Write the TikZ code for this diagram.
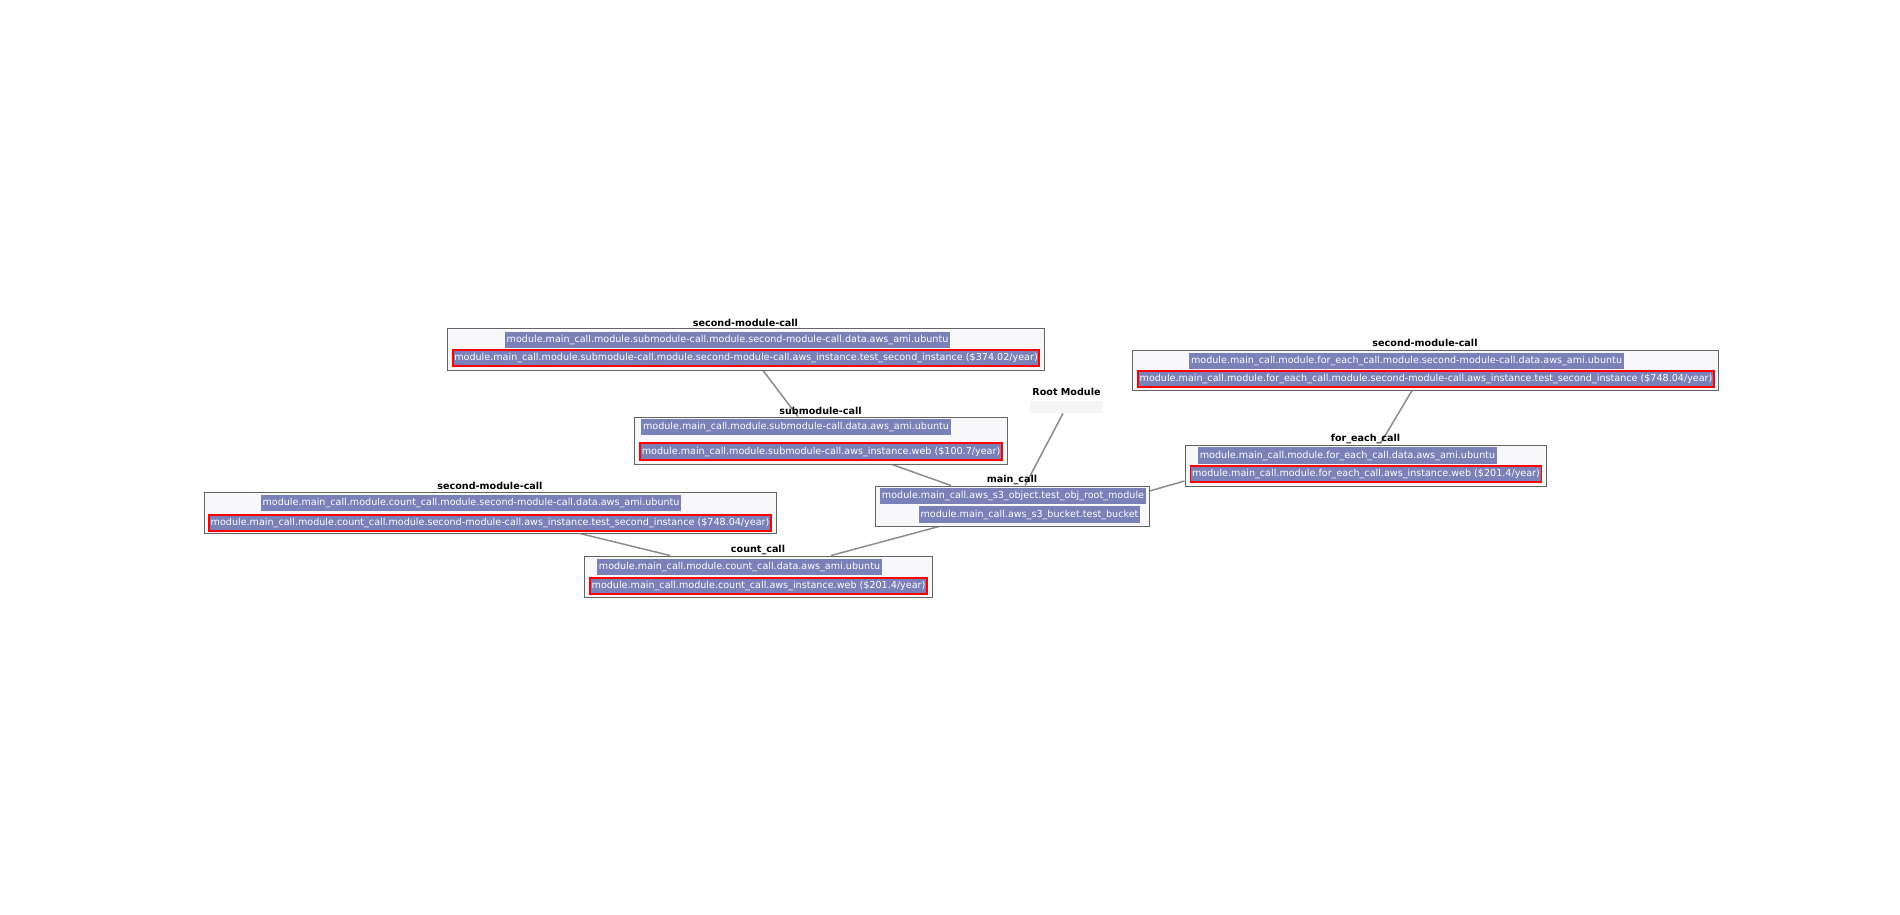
\documentclass[tikz,border=0pt]{standalone}
\usepackage{fontspec}
\setmainfont{DejaVu Sans}
\usetikzlibrary{calc,backgrounds}
\definecolor{rowblue}{RGB}{122,129,184}
\definecolor{clfill}{RGB}{248,248,250}
\definecolor{clline}{RGB}{100,100,100}
\definecolor{edgegray}{RGB}{140,140,140}
\definecolor{rootfill}{RGB}{245,245,245}
\tikzset{
  cluster/.style={draw=clline, line width=0.5pt, fill=clfill, inner sep=0pt},
  ctitle/.style={font=\fontsize{4.8pt}{5.5pt}\selectfont\bfseries, inner sep=0pt},
  datarow/.style={fill=rowblue, text=white, font=\fontsize{4.8pt}{5.5pt}\selectfont, inner xsep=0.8pt, inner ysep=1.7pt},
  resrow/.style={fill=rowblue, draw=red, line width=0.9pt, text=white, font=\fontsize{4.8pt}{5.5pt}\selectfont, inner xsep=0.8pt, inner ysep=1.7pt},
  conn/.style={draw=edgegray, line width=0.75pt},
}
\begin{document}
\begin{tikzpicture}[x=0.5pt,y=-0.5pt]
\useasboundingbox (0,0) rectangle (1900,915);
% top second-module-call
\node[cluster, minimum width=298.5pt, minimum height=21pt] (c1) at (745.5,349) {};
\node[ctitle] (c1t) at (745.5,323) {second-module-call};
\node[datarow] (c1a) at (727.5,340) {module.main\_call.module.submodule-call.module.second-module-call.data.aws\_ami.ubuntu};
\node[resrow] (c1b) at (746,358) {module.main\_call.module.submodule-call.module.second-module-call.aws\_instance.test\_second\_instance (\$374.02/year)};
% submodule-call
\node[cluster, minimum width=186.5pt, minimum height=23.5pt] (c2) at (820.5,440.5) {};
\node[ctitle] (c2t) at (820.5,411) {submodule-call};
\node[datarow] (c2a) at (796,427) {module.main\_call.module.submodule-call.data.aws\_ami.ubuntu};
\node[resrow] (c2b) at (821,451.5) {module.main\_call.module.submodule-call.aws\_instance.web (\$100.7/year)};
% Root Module
\node[fill=rootfill, minimum width=36.5pt, minimum height=6pt, inner sep=0pt] (root) at (1066.5,407) {};
\node[ctitle] (roott) at (1066.5,392) {Root Module};
% main_call
\node[cluster, minimum width=137pt, minimum height=20pt] (c3) at (1012,506) {};
\node[ctitle] (c3t) at (1012,480) {main\_call};
\node[datarow] (c3a) at (1013,496) {module.main\_call.aws\_s3\_object.test\_obj\_root\_module};
\node[datarow] (c3b) at (1029.5,514.5) {module.main\_call.aws\_s3\_bucket.test\_bucket};
% left second-module-call
\node[cluster, minimum width=286pt, minimum height=20.5pt] (c4) at (490,512.5) {};
\node[ctitle] (c4t) at (490,486) {second-module-call};
\node[datarow] (c4a) at (471,503) {module.main\_call.module.count\_call.module.second-module-call.data.aws\_ami.ubuntu};
\node[resrow] (c4b) at (490,523) {module.main\_call.module.count\_call.module.second-module-call.aws\_instance.test\_second\_instance (\$748.04/year)};
% count_call
\node[cluster, minimum width=174pt, minimum height=20.5pt] (c5) at (758,576.5) {};
\node[ctitle] (c5t) at (758,550) {count\_call};
\node[datarow] (c5a) at (739.5,567) {module.main\_call.module.count\_call.data.aws\_ami.ubuntu};
\node[resrow] (c5b) at (758.5,586) {module.main\_call.module.count\_call.aws\_instance.web (\$201.4/year)};
% right second-module-call
\node[cluster, minimum width=293pt, minimum height=20pt] (c6) at (1425,370) {};
\node[ctitle] (c6t) at (1425,343) {second-module-call};
\node[datarow] (c6a) at (1406.5,361) {module.main\_call.module.for\_each\_call.module.second-module-call.data.aws\_ami.ubuntu};
\node[resrow] (c6b) at (1426,379) {module.main\_call.module.for\_each\_call.module.second-module-call.aws\_instance.test\_second\_instance (\$748.04/year)};
% for_each_call
\node[cluster, minimum width=180.5pt, minimum height=20.5pt] (c7) at (1365.5,465.5) {};
\node[ctitle] (c7t) at (1365.5,439) {for\_each\_call};
\node[datarow] (c7a) at (1347.5,455.5) {module.main\_call.module.for\_each\_call.data.aws\_ami.ubuntu};
\node[resrow] (c7b) at (1366,474) {module.main\_call.module.for\_each\_call.aws\_instance.web (\$201.4/year)};
% connectors
\begin{scope}[on background layer]
\draw[conn] ($(c1.south)+(17.5,0)$) -- ($(c2.north)+(-22.5,0)$);
\draw[conn] ($(c2.south)+(71.5,0)$) -- ($(c3.north)+(-61,0)$);
\draw[conn] ($(root.south)+(-3.5,0)$) -- ($(c3.north)+(13,0)$);
\draw[conn] ($(c6.south)+(-13,0)$) -- ($(c7.north)+(15.5,-2)$);
\draw[conn] ($(c7.west)+(0,15.5)$) -- ($(c3.east)+(0,-15)$);
\draw[conn] ($(c4.south)+(90,0)$) -- ($(c5.north)+(-88,0)$);
\draw[conn] ($(c3.south)+(-73,0)$) -- ($(c5.north)+(73,0)$);
\end{scope}
\end{tikzpicture}
\end{document}
